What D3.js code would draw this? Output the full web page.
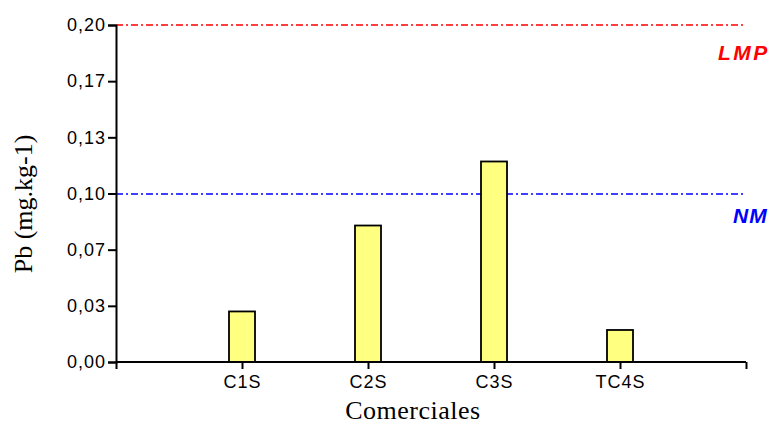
<!DOCTYPE html>
<html>
<head>
<meta charset="utf-8">
<script src="https://cdn.jsdelivr.net/npm/d3@7"></script>
<style>
  body { margin: 0; background: #fff; }
  svg { display: block; }
</style>
</head>
<body>
<svg id="chart" width="776" height="426"></svg>
<script>
// ── Pb en muestras comerciales ──────────────────────────────────────────────
const categories = ['C1S', 'C2S', 'C3S', 'TC4S'];
const pbValues   = [0.030, 0.081, 0.119, 0.019];
const yTicks     = [0, 1/30, 2/30, 3/30, 4/30, 5/30, 6/30];
const refLines   = [
  { label: 'LMP', value: 0.20, color: '#ff0000' },
  { label: 'NM',  value: 0.10, color: '#0000ff' },
];

const svg = d3.select('#chart');
const x0 = 116, x1 = 746, yTop = 25, yBot = 362;

// blank slots at both ends, like the original axis
const slots = ['', ...categories, ' '];
const x = d3.scalePoint().domain(slots).range([x0, x1]);
const y = d3.scaleLinear().domain([0, 0.2]).range([yBot, yTop]);
const barW = 26;

// reference lines
refLines.forEach((r, i) => {
  const yy = Math.round(y(r.value));
  svg.append('line')
    .attr('x1', x0).attr('x2', x1).attr('y1', yy).attr('y2', yy)
    .attr('stroke', r.color).attr('stroke-width', 1.3)
    .attr('stroke-dasharray', '7,3,2,3');
  svg.append('text')
    .attr('x', i === 0 ? 718 : 733).attr('y', i === 0 ? 60 : 223)
    .attr('font-family', 'Liberation Sans, Arial, sans-serif')
    .attr('font-weight', 'bold').attr('font-style', 'italic')
    .attr('font-size', 21)
    .attr('letter-spacing', i === 0 ? 2.5 : 1)
    .attr('fill', r.color)
    .text(r.label);
});

// bars
svg.selectAll('rect.bar').data(categories).join('rect')
  .attr('class', 'bar')
  .attr('x', d => x(d) - barW / 2)
  .attr('y', (d, i) => y(pbValues[i]))
  .attr('width', barW)
  .attr('height', (d, i) => yBot - y(pbValues[i]))
  .attr('fill', '#ffff80').attr('stroke', '#000').attr('stroke-width', 1.8);

// axes
const fmt = v => d3.format('.2f')(v).replace('.', ',');
const yAxis = svg.append('g').attr('transform', `translate(${x0},0)`)
  .call(d3.axisLeft(y).tickValues(yTicks).tickFormat(fmt).tickSize(8).tickPadding(2));
const xAxis = svg.append('g').attr('transform', `translate(0,${yBot})`)
  .call(d3.axisBottom(x).tickSize(7).tickPadding(6));

[yAxis, xAxis].forEach(g => {
  g.select('.domain').attr('stroke', '#000').attr('stroke-width', 2);
  g.selectAll('.tick line').attr('stroke', '#000').attr('stroke-width', 2);
  g.selectAll('.tick text')
    .attr('font-family', 'Liberation Sans, Arial, sans-serif')
    .attr('font-size', 18).attr('letter-spacing', 1).attr('fill', '#000');
});
xAxis.select('.domain').attr('d', `M${x0},0H${x1}`);

// axis titles
svg.append('text')
  .attr('x', 413).attr('y', 419)
  .attr('text-anchor', 'middle')
  .attr('font-family', 'Liberation Serif, Times New Roman, serif')
  .attr('font-size', 26)
  .attr('letter-spacing', 0.5)
  .text('Comerciales');
svg.append('text')
  .attr('transform', 'translate(32,204) rotate(-90)')
  .attr('text-anchor', 'middle')
  .attr('font-family', 'Liberation Serif, Times New Roman, serif')
  .attr('font-size', 26)
  .text('Pb (mg.kg-1)');
</script>
</body>
</html>
